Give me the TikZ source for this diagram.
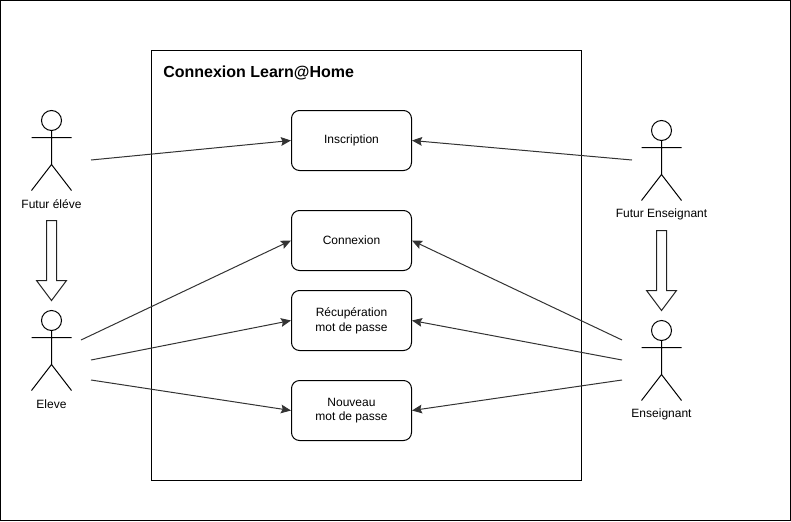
\documentclass[tikz,border=0pt]{standalone}
\usepackage{fontspec}
\setmainfont{Liberation Sans}
\usetikzlibrary{arrows.meta}
\definecolor{conn}{HTML}{333333}
\definecolor{bigline}{HTML}{222222}
\tikzset{
  x=0.75pt,y=-0.75pt,
  usecase/.style={draw=black,rounded corners=6pt,minimum width=90pt,minimum height=45pt,inner sep=0pt,align=center,font=\fontsize{9}{11}\selectfont,line width=0.75pt},
  ucline/.style={yshift=-0.5pt},
  lab/.style={font=\fontsize{9}{11}\selectfont,inner sep=0pt},
  conn/.style={draw=conn,line width=0.75pt,-{Stealth[length=7.5pt,width=6.5pt,inset=1.2pt]}},
  bigarrow/.style={draw=bigline,fill=white,line width=0.75pt},
}
\newcommand{\actor}[2]{%
  \draw[line width=0.75pt,fill=white] (#1,#2) circle[radius=10];
  \draw[line width=0.75pt] (#1,#2+10) -- (#1,#2+44) (#1-20,#2+17) -- (#1+20,#2+17) (#1-20,#2+70) -- (#1,#2+44) -- (#1+20,#2+70);
}
\newcommand{\bigdown}[3]{% x, ytop, ybottom
  \draw[bigarrow] (#1-5,#2) -- (#1+5,#2) -- (#1+5,#3-20) -- (#1+15,#3-20) -- (#1,#3) -- (#1-15,#3-20) -- (#1-5,#3-20) -- cycle;
}
\begin{document}
\begin{tikzpicture}
\useasboundingbox (0,0) rectangle (791,521);
\draw[line width=0.75pt] (0.5,0.5) rectangle (790.5,520.5);
\draw[line width=0.75pt] (151.5,50.5) rectangle (581.5,480.5);
\node[anchor=west,inner sep=0pt,font=\fontsize{12}{14}\selectfont\bfseries] (title) at (163,73) {Connexion Learn@Home};
\node[usecase] (insc) at (351.5,140.5) {Inscription};
\node[usecase] (conx) at (351.5,240.5) {Connexion};
\node[usecase] (recup) at (351.5,320.5) {\raisebox{-1pt}{Récupération}\\\raisebox{-1pt}{mot de passe}};
\node[usecase] (nouv) at (351.5,410.5) {\raisebox{-1pt}{Nouveau}\\\raisebox{-1pt}{mot de passe}};
\actor{51.5}{120.5}
\actor{51.5}{320.5}
\actor{661.5}{130.5}
\actor{661.5}{330.5}
\node[lab] (l1) at (51.5,204.5) {Futur éléve};
\node[lab] (l2) at (51.5,404.5) {Eleve};
\node[lab] (l3) at (661.5,214.5) {Futur Enseignant};
\node[lab] (l4) at (661.5,414.5) {Enseignant};
\coordinate (a1) at (91,160);
\coordinate (a2) at (81,340);
\coordinate (a3) at (91,360);
\coordinate (a4) at (91,380);
\coordinate (b1) at (632,160);
\coordinate (b2) at (622,340);
\coordinate (b3) at (622,360);
\coordinate (b4) at (622,380);
\draw[conn] (a1) -- (insc.west);
\draw[conn] (a2) -- (conx.west);
\draw[conn] (a3) -- (recup.west);
\draw[conn] (a4) -- (nouv.west);
\draw[conn] (b1) -- (insc.east);
\draw[conn] (b2) -- (conx.east);
\draw[conn] (b3) -- (recup.east);
\draw[conn] (b4) -- (nouv.east);
\bigdown{51.5}{220.5}{300.5}
\bigdown{661.5}{230.5}{310.5}
\end{tikzpicture}
\end{document}
